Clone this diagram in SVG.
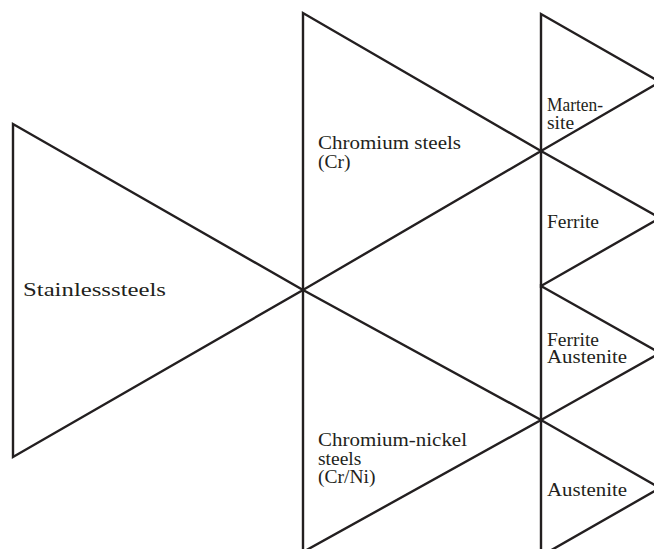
<svg xmlns="http://www.w3.org/2000/svg" width="654" height="549" viewBox="0 0 654 549">
<style>
.tri{fill:none;stroke:#231f20;stroke-width:2.4;stroke-linejoin:miter}
.lbl{font-family:"Liberation Serif","Times New Roman",serif;font-size:19.5px;fill:#231f20}
</style>
<rect width="654" height="549" fill="#ffffff"/>
<g id="connectors"></g>
<g id="stainless">
<polygon class="tri" points="13,124 13,457 303,290"/>
<text class="lbl" x="23" y="296" textLength="143" lengthAdjust="spacingAndGlyphs">Stainlesssteels</text>
</g>
<g id="chromium">
<polygon class="tri" points="303,13 303,290 541,151"/>
<text class="lbl" x="318" y="149" textLength="143" lengthAdjust="spacingAndGlyphs">Chromium steels</text>
<text class="lbl" x="318" y="168">(Cr)</text>
</g>
<g id="chromium-nickel">
<polygon class="tri" points="303,290 303,552 541,420"/>
<text class="lbl" x="318" y="446" textLength="149" lengthAdjust="spacingAndGlyphs">Chromium-nickel</text>
<text class="lbl" x="318" y="465">steels</text>
<text class="lbl" x="318" y="483">(Cr/Ni)</text>
</g>
<g id="martensite">
<polygon class="tri" points="541,14 541,151 660,82"/>
<text class="lbl" x="547" y="111" textLength="56" lengthAdjust="spacingAndGlyphs">Marten-</text>
<text class="lbl" x="547" y="129">site</text>
</g>
<g id="ferrite">
<polygon class="tri" points="541,151 541,286 660,218"/>
<text class="lbl" x="547" y="228">Ferrite</text>
</g>
<g id="ferrite-austenite">
<polygon class="tri" points="541,286 541,420 660,353"/>
<text class="lbl" x="547" y="346">Ferrite</text>
<text class="lbl" x="547" y="363" textLength="80" lengthAdjust="spacingAndGlyphs">Austenite</text>
</g>
<g id="austenite">
<polygon class="tri" points="541,420 541,556 660,488"/>
<text class="lbl" x="547" y="496" textLength="80" lengthAdjust="spacingAndGlyphs">Austenite</text>
</g>
</svg>
